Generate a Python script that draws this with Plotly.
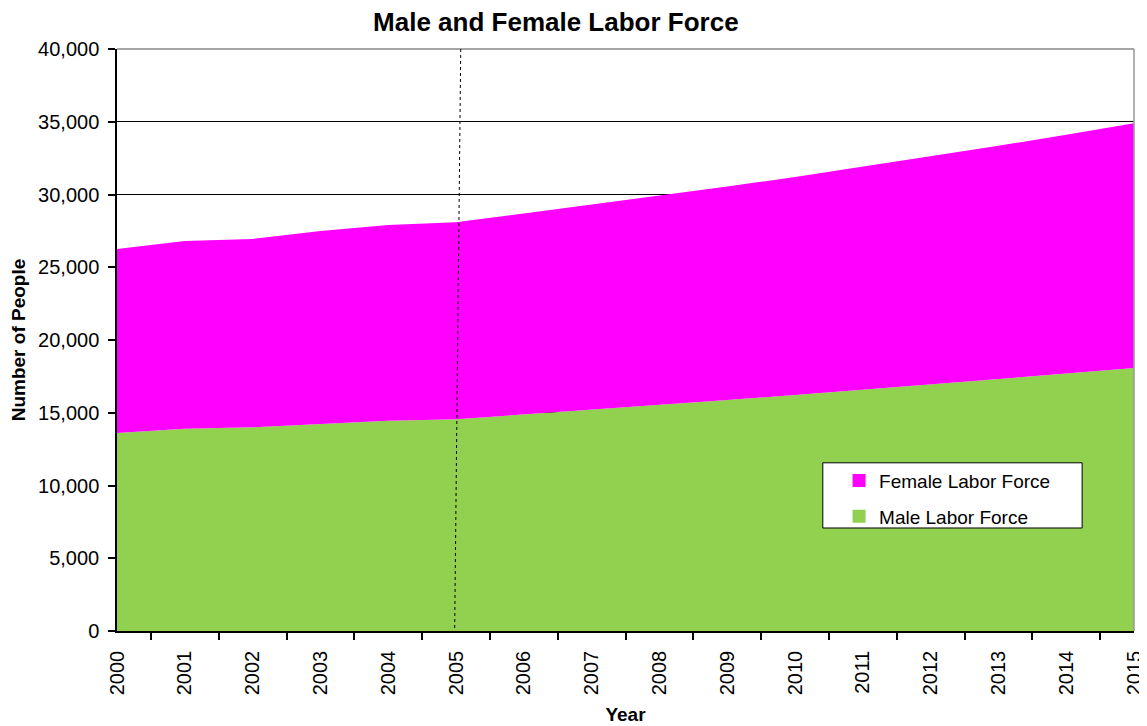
import plotly.graph_objects as go

years = list(range(2000, 2016))
male = [13600, 13900, 14000, 14250, 14450, 14550, 14870, 15200, 15530, 15870,
        16220, 16580, 16940, 17310, 17690, 18080]
female = [12650, 12900, 12950, 13250, 13450, 13550, 13830, 14100, 14370, 14680,
          14980, 15320, 15660, 16040, 16410, 16820]
tick_labels = [str(y) for y in years]

GREEN = "#92D050"
MAGENTA = "#FF00FF"
FONT = "Liberation Sans, Arial, sans-serif"

fig = go.Figure()
fig.add_trace(go.Scatter(
    x=years, y=male, name="Male Labor Force", mode="lines",
    stackgroup="one", line=dict(width=0, color=GREEN), fillcolor=GREEN,
    showlegend=False,
))
fig.add_trace(go.Scatter(
    x=years, y=female, name="Female Labor Force", mode="lines",
    stackgroup="one", line=dict(width=0, color=MAGENTA), fillcolor=MAGENTA,
    showlegend=False,
))
# legend entries with square swatches
fig.add_trace(go.Scatter(
    x=[None], y=[None], mode="markers", name="Female Labor Force",
    marker=dict(symbol="square", size=13, color=MAGENTA), legendgroup="f",
))
fig.add_trace(go.Scatter(
    x=[None], y=[None], mode="markers", name="Male Labor Force",
    marker=dict(symbol="square", size=13, color=GREEN), legendgroup="m",
))

# the page body adds an 8px margin, so the figure is sized to fit the window
fig.update_layout(
    width=1139, height=718,
    margin=dict(l=109, r=13, t=41, b=95),
    paper_bgcolor="white", plot_bgcolor="white",
    font=dict(family=FONT, color="black", size=20),
    title=dict(text="<b>Male and Female Labor Force</b>", x=0.481, xanchor="center",
               y=0.9805, yanchor="middle", font=dict(size=26, family=FONT, color="black")),
    showlegend=True,
    legend=dict(x=0.71, y=0.291, xanchor="left", yanchor="top",
                bgcolor="rgba(0,0,0,0)", borderwidth=0, traceorder="grouped",
                tracegroupgap=8, font=dict(size=19, family=FONT, color="black")),
    xaxis=dict(
        range=[2000, 2015], tickmode="array", tickvals=years, ticktext=tick_labels,
        tickangle=-90, ticks="", showgrid=False, zeroline=False, automargin=False,
        showline=True, linecolor="black", linewidth=1.5, ticklabelstandoff=10,
        tickfont=dict(size=20, family=FONT),
        minor=dict(tick0=2000.5, dtick=1, ticks="outside", ticklen=7,
                   tickcolor="black", tickwidth=1.5, showgrid=False),
        title=dict(text="<b>Year</b>", font=dict(size=19, family=FONT), standoff=13),
    ),
    yaxis=dict(
        range=[0, 40000], dtick=5000, tickformat=",d", automargin=False,
        showgrid=True, gridcolor="black", gridwidth=1,
        ticks="outside", ticklen=7, tickcolor="black", tickwidth=1.5,
        showline=True, linecolor="black", linewidth=1.5, zeroline=False,
        ticksuffix="\u2005",
        tickfont=dict(size=20, family=FONT),
        title=dict(text="<b>Number of People</b>", font=dict(size=19, family=FONT), standoff=7),
    ),
)

# plot frame (grey top/right) and legend box
fig.add_shape(type="line", xref="paper", yref="paper", x0=0, x1=1, y0=1, y1=1,
              line=dict(color="#888888", width=1.5), layer="above")
fig.add_shape(type="line", xref="paper", yref="paper", x0=1, x1=1, y0=0, y1=1,
              line=dict(color="#999999", width=1.5), layer="above")
fig.add_shape(type="line", xref="x", yref="y", x0=2015, x1=2015, y0=0, y1=-470,
              line=dict(color="black", width=1.5), layer="above")
fig.add_shape(type="rect", xref="paper", yref="paper",
              x0=0.694, x1=0.949, y0=0.177, y1=0.289,
              line=dict(color="black", width=1), fillcolor="white", layer="above")
# dotted marker line near 2005
fig.add_shape(type="line", xref="x", yref="y", x0=2005.07, x1=2004.98, y0=40000, y1=0,
              line=dict(color="black", width=1, dash="dot"), layer="above")

fig.write_html("out.html")
